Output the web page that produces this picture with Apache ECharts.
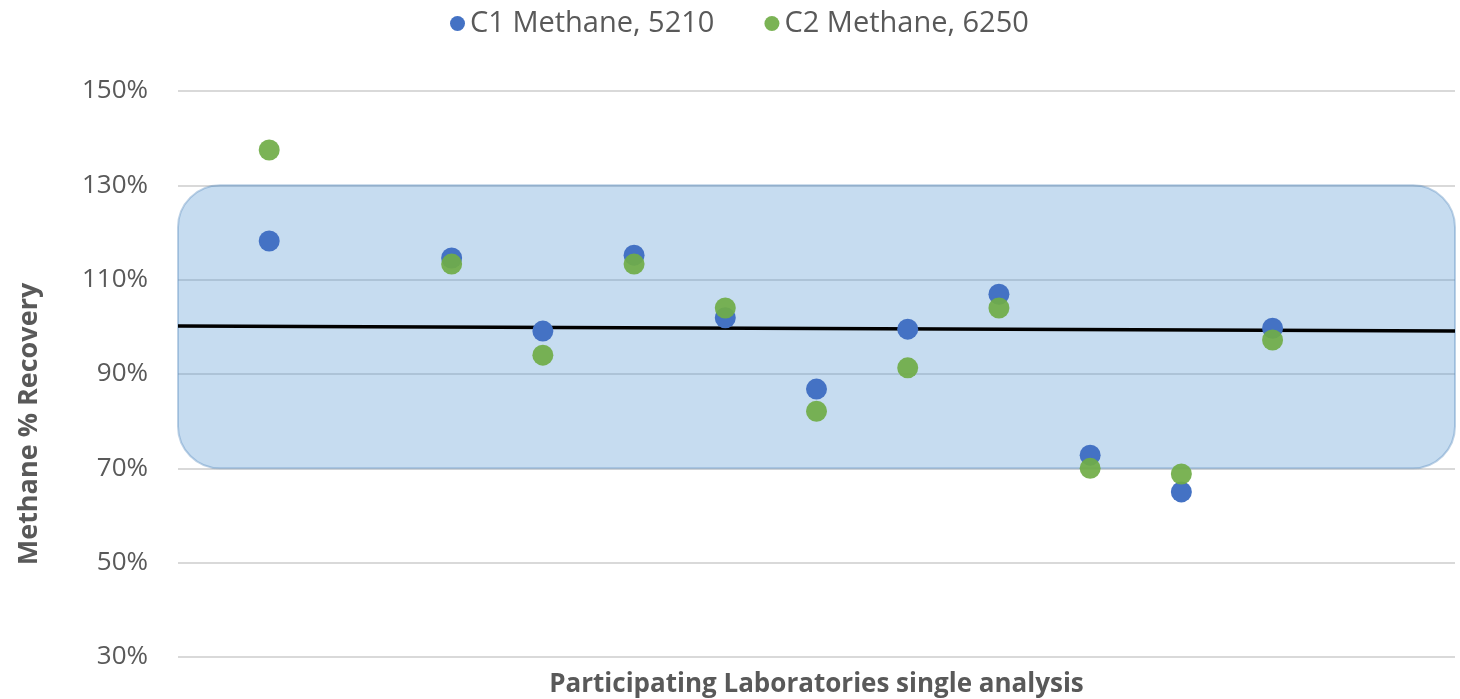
<!DOCTYPE html>
<html><head><meta charset="utf-8">
<script src="https://cdn.jsdelivr.net/npm/echarts@6/dist/echarts.min.js"></script>
<style>html,body{margin:0;padding:0;background:#fff}#c{width:1460px;height:699px}</style>
</head><body><div id="c"></div>
<script>
const labs = [1, 3, 4, 5, 6, 7, 8, 9, 10, 11, 12];
const c1Values = [118.2, 114.6, 99.1, 115.2, 101.9, 86.8, 99.5, 106.9, 72.8, 65.0, 99.7];
const c2Values = [137.5, 113.3, 94.0, 113.3, 104.0, 82.1, 91.3, 104.0, 70.0, 68.8, 97.2];
const seriesNames = ['C1 Methane, 5210', 'C2 Methane, 6250'];
const acceptBand = [70, 130];
const xRange = [0, 14];
const refLine = [100.2, 99.1];
const yTicks = [30, 50, 70, 90, 110, 130, 150];

const chart = echarts.init(document.getElementById('c'));
const txt = '#595959';
chart.setOption({
  animation: false,
  textStyle: { fontFamily: 'Open Sans' },
  legend: {
    top: 4, left: 445, itemGap: 50, itemWidth: 15, itemHeight: 15,
    data: seriesNames.map(n => ({ name: n, icon: 'circle' })),
    textStyle: { color: txt, fontSize: 29, fontFamily: 'Open Sans' }
  },
  grid: { left: 178, right: 5, top: 91, bottom: 42, outerBoundsMode: 'none', containLabel: false },
  xAxis: {
    type: 'value', min: xRange[0], max: xRange[1],
    axisLabel: { show: false }, axisTick: { show: false }, axisLine: { show: false },
    splitLine: { show: false },
    name: 'Participating Laboratories single analysis', nameLocation: 'middle', nameGap: 15,
    nameTextStyle: { color: txt, fontSize: 26, fontWeight: 'bold', fontFamily: 'Open Sans' }
  },
  yAxis: {
    type: 'value', min: yTicks[0], max: yTicks[yTicks.length - 1], interval: 20,
    axisLabel: { formatter: v => v + '%', color: txt, fontSize: 26, margin: 30, fontFamily: 'Open Sans' },
    axisTick: { show: false }, axisLine: { show: false },
    splitLine: { lineStyle: { color: '#d9d9d9', width: 2 } },
    name: 'Methane % Recovery', nameLocation: 'middle', nameGap: 135, nameRotate: 90,
    nameTextStyle: { color: txt, fontSize: 27, fontWeight: 'bold', fontFamily: 'Open Sans', padding: [0, 100, 0, 0] }
  },
  series: [
    {
      type: 'custom', silent: true, z: 1,
      data: [[xRange[0], acceptBand[1], xRange[1], acceptBand[0]]],
      renderItem: (params, api) => {
        const p1 = api.coord([api.value(0), api.value(1)]);
        const p2 = api.coord([api.value(2), api.value(3)]);
        return {
          type: 'rect',
          shape: { x: p1[0], y: p1[1], width: p2[0] - p1[0], height: p2[1] - p1[1], r: 42 },
          style: { fill: 'rgba(91,155,213,0.35)', stroke: 'rgba(91,140,190,0.4)', lineWidth: 2 }
        };
      }
    },
    {
      type: 'line', silent: true, z: 3, symbol: 'none',
      data: [[xRange[0], refLine[0]], [xRange[1], refLine[1]]],
      lineStyle: { color: '#000', width: 3.5 }
    },
    {
      name: seriesNames[0], type: 'scatter', z: 4, symbolSize: 21,
      itemStyle: { color: '#4472c4', opacity: 1 },
      data: labs.map((x, i) => [x, c1Values[i]])
    },
    {
      name: seriesNames[1], type: 'scatter', z: 5, symbolSize: 21,
      itemStyle: { color: '#70ad47', opacity: 0.92 },
      data: labs.map((x, i) => [x, c2Values[i]])
    }
  ]
});
</script></body></html>
